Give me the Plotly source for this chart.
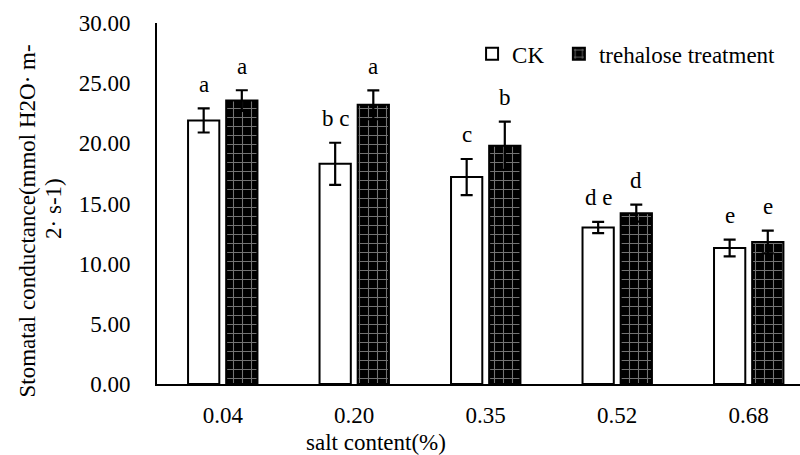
import plotly.graph_objects as go

categories = ["0.04", "0.20", "0.35", "0.52", "0.68"]
ck_values = [21.9, 18.3, 17.2, 13.0, 11.3]
ck_errors = [1.0, 1.75, 1.5, 0.47, 0.7]
tre_values = [23.55, 23.2, 19.8, 14.2, 11.8]
tre_errors = [0.86, 1.2, 2.0, 0.7, 0.95]
ck_letters = ["a", "b c", "c", "d e", "e"]
tre_letters = ["a", "a", "b", "d", "e"]
y_ticks = [0, 5, 10, 15, 20, 25, 30]

FONT = "Liberation Serif, Times New Roman, serif"
FS = 23

fig = go.Figure()
fig.add_trace(go.Bar(
    name="CK", x=categories, y=ck_values, legend="legend",
    marker=dict(color="white", line=dict(color="black", width=2)),
    error_y=dict(type="data", array=ck_errors, color="black", thickness=2.2, width=6),
))
fig.add_trace(go.Bar(
    name="trehalose treatment", x=categories, y=tre_values, legend="legend2",
    marker=dict(color="black", line=dict(color="black", width=2),
                pattern=dict(shape="+", fgcolor="#e6e6e6", bgcolor="black",
                             size=9, solidity=0.22)),
    error_y=dict(type="data", array=tre_errors, color="black", thickness=2.2, width=6),
))

annotations = []
for i, c in enumerate(categories):
    annotations.append(dict(x=i, y=ck_values[i] + ck_errors[i], xref="x", yref="y",
                            text=ck_letters[i], showarrow=False, xshift=-19, yshift=24,
                            yanchor="middle", font=dict(family=FONT, size=FS, color="black")))
    annotations.append(dict(x=i, y=tre_values[i] + tre_errors[i], xref="x", yref="y",
                            text=tre_letters[i], showarrow=False, xshift=19, yshift=24,
                            yanchor="middle", font=dict(family=FONT, size=FS, color="black")))

# y-axis title (two lines)
annotations.append(dict(x=0, y=0.45, xref="paper", yref="paper", xshift=-129,
                        text="Stomatal conductance(mmol H2O· m-", textangle=-90,
                        showarrow=False, xanchor="center", yanchor="middle",
                        font=dict(family=FONT, size=FS, color="black")))
annotations.append(dict(x=0, y=0.485, xref="paper", yref="paper", xshift=-103,
                        text="2· s-1)", textangle=-90,
                        showarrow=False, xanchor="center", yanchor="middle",
                        font=dict(family=FONT, size=FS, color="black")))
# x-axis title
annotations.append(dict(x=0, y=0, xref="paper", yref="paper", xshift=219, yshift=-58,
                        text="salt content(%)", showarrow=False,
                        xanchor="center", yanchor="middle",
                        font=dict(family=FONT, size=FS, color="black")))

legend_common = dict(orientation="h", yanchor="middle", y=0.915, xanchor="left",
                     font=dict(family=FONT, size=FS, color="black"),
                     bgcolor="rgba(0,0,0,0)", itemwidth=30)

fig.update_layout(
    width=800, height=455,
    margin=dict(l=157, r=0, t=23, b=71, autoexpand=False),
    paper_bgcolor="white", plot_bgcolor="white",
    font=dict(family=FONT, size=FS, color="black"),
    barmode="group", bargap=0.42, bargroupgap=0.18,
    showlegend=True,
    legend=dict(x=0.49, **legend_common),
    legend2=dict(x=0.625, **legend_common),
    annotations=annotations,
)
fig.update_xaxes(
    type="category", range=[-0.5, 4.39], automargin=False,
    showline=True, linecolor="black", linewidth=2,
    ticks="", showgrid=False, zeroline=False,
    ticklabelstandoff=9,
    tickfont=dict(family=FONT, size=FS, color="black"),
)
fig.update_yaxes(
    range=[0, 30], tickvals=y_ticks, tickformat=".2f", automargin=False,
    showline=True, linecolor="black", linewidth=2,
    ticks="", showgrid=False, zeroline=False,
    ticklabelstandoff=20,
    tickfont=dict(family=FONT, size=FS, color="black"),
)

fig.write_html("out.html", config={"displayModeBar": False},
               post_script="document.body.style.margin='0';")
